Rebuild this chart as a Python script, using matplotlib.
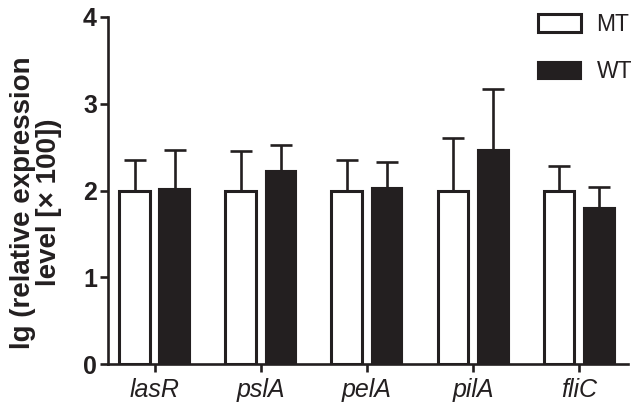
import numpy as np
import matplotlib.pyplot as plt
from matplotlib.patches import Patch

genes = ['lasR', 'pslA', 'pelA', 'pilA', 'fliC']
mt_vals = [2.0, 2.0, 2.0, 2.0, 2.0]
mt_err = [0.35, 0.45, 0.35, 0.60, 0.28]
wt_vals = [2.02, 2.23, 2.03, 2.47, 1.80]
wt_err = [0.45, 0.30, 0.30, 0.70, 0.24]

ink = '#231f20'
plt.rcParams['font.family'] = ['Liberation Sans', 'DejaVu Sans']

fig = plt.figure(figsize=(6.41, 4.05), dpi=100)
ax = fig.add_axes([108 / 641, 41 / 405, 520 / 641, 347 / 405])

x = np.arange(len(genes))
w = 0.29
off = 0.19
ekw = dict(ecolor=ink, elinewidth=1.9, capthick=1.9)
ax.bar(x - off, mt_vals, w, color='white', edgecolor=ink, linewidth=2.2,
       yerr=[np.zeros(len(genes)), mt_err], capsize=8, error_kw=ekw, zorder=3)
ax.bar(x + off, wt_vals, w, color=ink, edgecolor=ink, linewidth=1.5,
       yerr=[np.zeros(len(genes)), wt_err], capsize=8, error_kw=ekw, zorder=3)

ax.set_xlim(-0.44, 4.46)
ax.set_ylim(0, 4)
ax.set_yticks([0, 1, 2, 3, 4])
ax.set_xticks(x)
ax.set_xticklabels(genes, fontstyle='italic', fontsize=18, color=ink)
for lab in ax.get_yticklabels():
    lab.set_fontweight('bold')
    lab.set_fontsize(18)
    lab.set_color(ink)

for s in ['top', 'right']:
    ax.spines[s].set_visible(False)
for s in ['left', 'bottom']:
    ax.spines[s].set_linewidth(1.9)
    ax.spines[s].set_color(ink)
ax.tick_params(axis='both', direction='out', length=6, width=1.9, color=ink)
ax.tick_params(axis='y', pad=2)
ax.tick_params(axis='x', pad=4)

ax.set_ylabel('lg (relative expression\nlevel [× 100])', fontsize=20,
              fontweight='bold', color=ink, linespacing=1.0)
ax.yaxis.set_label_coords(-0.088, 0.465)

handles = [Patch(facecolor='white', edgecolor=ink, linewidth=2.2, label='MT'),
           Patch(facecolor=ink, edgecolor=ink, linewidth=1.5, label='WT')]
leg = fig.legend(handles=handles, loc='upper left', bbox_to_anchor=(529 / 641, 1 - 4 / 405),
                 frameon=False, fontsize=16.5, handlelength=1.85, handleheight=0.8,
                 labelspacing=1.05, handletextpad=0.7, borderaxespad=0)
for t in leg.get_texts():
    t.set_color(ink)

fig.savefig('out.png', dpi=100)
